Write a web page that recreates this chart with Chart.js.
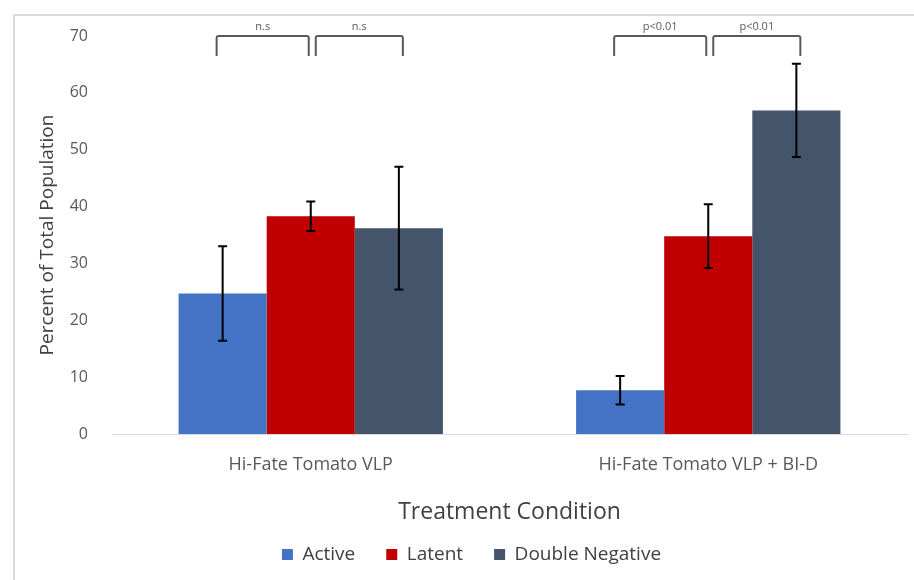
<!DOCTYPE html>
<html>
<head>
<meta charset="utf-8">
<script src="https://cdn.jsdelivr.net/npm/chart.js@4.4.1/dist/chart.umd.min.js"></script>
<style>
  html, body { margin: 0; padding: 0; background: #fff; }
  #wrap { width: 914px; height: 580px; }
</style>
</head>
<body>
<div id="wrap"><canvas id="grafico" width="914" height="580"></canvas></div>
<script>
// datos
const categorias = ['Hi-Fate Tomato VLP', 'Hi-Fate Tomato VLP + BI-D'];
const activo = [24.7, 7.7];
const activoErr = [8.3, 2.5];
const latente = [38.3, 34.8];
const latenteErr = [2.6, 5.6];
const dobleNeg = [36.2, 56.9];
const dobleNegErr = [10.8, 8.2];
const ticksY = [0, 10, 20, 30, 40, 50, 60, 70];

// corchetes de significancia: [grupo, barra inicio, barra fin, texto]
const corchetes = [
  [0, 0, 1, 'n.s'],
  [0, 1, 2, 'n.s'],
  [1, 0, 1, 'p<0.01'],
  [1, 1, 2, 'p<0.01']
];
const errores = [activoErr, latenteErr, dobleNegErr];

const fuente = '"Open Sans", Lato, sans-serif';
const gris = '#595959';

// marco gris alrededor del grafico
const marco = {
  id: 'marco',
  beforeDraw(chart) {
    const ctx = chart.ctx;
    ctx.save();
    ctx.strokeStyle = '#d9d9d9';
    ctx.lineWidth = 2;
    ctx.strokeRect(14, 15, 1000, 1000);
    ctx.restore();
  }
};

// barras de error
const barrasError = {
  id: 'barrasError',
  afterDatasetsDraw(chart) {
    const ctx = chart.ctx;
    const y = chart.scales.y;
    ctx.save();
    ctx.strokeStyle = '#000';
    ctx.lineWidth = 2;
    chart.data.datasets.forEach((ds, i) => {
      const meta = chart.getDatasetMeta(i);
      meta.data.forEach((bar, j) => {
        const v = ds.data[j];
        const e = errores[i][j];
        const yTop = y.getPixelForValue(v + e);
        const yBot = y.getPixelForValue(v - e);
        ctx.beginPath();
        ctx.moveTo(bar.x, yTop);
        ctx.lineTo(bar.x, yBot);
        ctx.moveTo(bar.x - 4.5, yTop);
        ctx.lineTo(bar.x + 4.5, yTop);
        ctx.moveTo(bar.x - 4.5, yBot);
        ctx.lineTo(bar.x + 4.5, yBot);
        ctx.stroke();
      });
    });
    ctx.restore();
  }
};

// corchetes con texto arriba
const corchetesPlugin = {
  id: 'corchetes',
  afterDatasetsDraw(chart) {
    const ctx = chart.ctx;
    const y = chart.scales.y;
    const yTop = y.getPixelForValue(70);
    const yPata = y.getPixelForValue(66.5);
    ctx.save();
    ctx.strokeStyle = gris;
    ctx.lineWidth = 2;
    ctx.fillStyle = gris;
    ctx.font = '11px ' + fuente;
    ctx.textAlign = 'center';
    ctx.textBaseline = 'middle';
    corchetes.forEach(c => {
      const b1 = chart.getDatasetMeta(c[1]).data[c[0]];
      const b2 = chart.getDatasetMeta(c[2]).data[c[0]];
      const x1 = c[1] === 0 ? b1.x - 6 : b1.x + 5;
      const x2 = c[1] === 0 ? b2.x - 2 : b2.x + 4;
      ctx.beginPath();
      ctx.moveTo(x1, yPata);
      ctx.lineTo(x1, yTop + 2);
      ctx.quadraticCurveTo(x1, yTop, x1 + 2, yTop);
      ctx.lineTo(x2 - 2, yTop);
      ctx.quadraticCurveTo(x2, yTop, x2, yTop + 2);
      ctx.lineTo(x2, yPata);
      ctx.stroke();
      ctx.fillText(c[3], (x1 + x2) / 2, yTop - 9);
    });
    ctx.restore();
  }
};

new Chart(document.getElementById('grafico'), {
  type: 'bar',
  data: {
    labels: categorias,
    datasets: [
      { label: 'Active', data: activo, backgroundColor: '#4472C4' },
      { label: 'Latent', data: latente, backgroundColor: '#C00000' },
      { label: 'Double Negative', data: dobleNeg, backgroundColor: '#44546A' }
    ]
  },
  options: {
    responsive: false,
    animation: false,
    devicePixelRatio: 1,
    layout: { padding: { left: 36, right: 7, top: 36, bottom: 6 } },
    datasets: { bar: { categoryPercentage: 0.665, barPercentage: 1 } },
    plugins: {
      legend: {
        position: 'bottom',
        maxHeight: 66,
        labels: {
          boxWidth: 11, boxHeight: 11, padding: 31,
          color: '#404040',
          font: { family: fuente, size: 19 }
        }
      },
      tooltip: { enabled: false }
    },
    scales: {
      x: {
        afterFit(scale) { scale.height = 80; },
        grid: { display: false, drawTicks: false },
        border: { color: '#d9d9d9', width: 1 },
        ticks: { color: gris, padding: 20, font: { family: fuente, size: 18 } },
        title: {
          display: true, text: 'Treatment Condition', color: '#404040',
          font: { family: fuente, size: 23 }, padding: { top: 0, bottom: -12 }
        }
      },
      y: {
        min: 0, max: 70,
        afterBuildTicks(scale) { scale.ticks = ticksY.map(v => ({ value: v })); },
        afterFit(scale) { scale.width = 76; },
        grid: { display: false, drawTicks: false },
        border: { display: false },
        ticks: { color: gris, padding: 24, font: { family: fuente, size: 16 } },
        title: {
          display: true, text: 'Percent of Total Population', color: '#404040',
          font: { family: fuente, size: 19 }, padding: { top: 0, bottom: 0 }
        }
      }
    }
  },
  plugins: [marco, barrasError, corchetesPlugin]
});
</script>
</body>
</html>
